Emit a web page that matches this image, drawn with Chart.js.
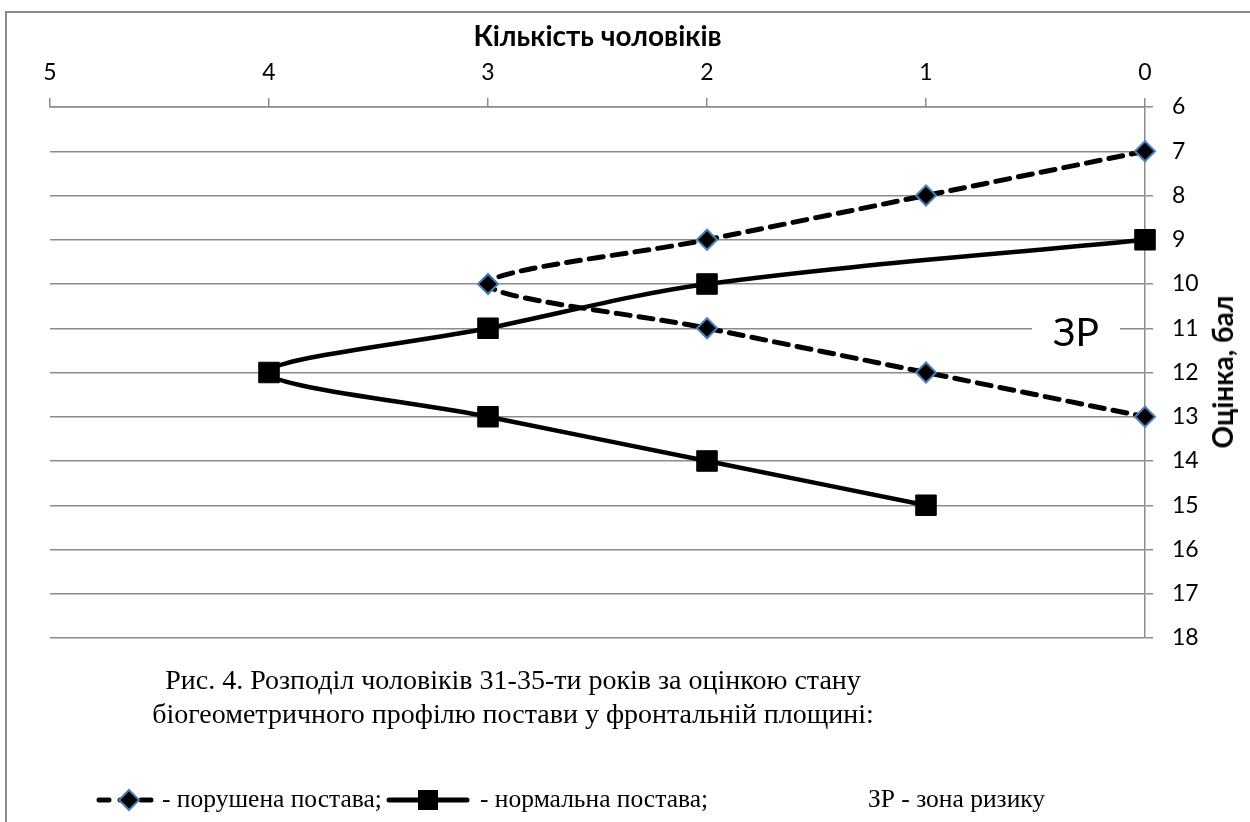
<!DOCTYPE html>
<html>
<head>
<meta charset="utf-8">
<script src="https://cdn.jsdelivr.net/npm/chart.js@4.4.1/dist/chart.umd.min.js"></script>
<style>
  html, body { margin: 0; padding: 0; width: 1250px; height: 822px; overflow: hidden; background: #fff; }
  #frame { position: absolute; left: 5px; top: 11px; width: 2000px; height: 2000px; border: 2px solid #8c8c8c; box-sizing: border-box; }
  #wrap { position: absolute; left: 0; top: 0; width: 1250px; height: 822px; }
  .txt { position: absolute; white-space: nowrap; color: #000; }
  .serif { font-family: "Liberation Serif", "Times New Roman", serif; }
  #ytitle { font-family: Lato, "Open Sans", sans-serif; font-weight: bold; font-size: 28px; left: 1222px; top: 372px; transform: translate(-50%, -50%) rotate(-90deg); }
  #zr { font-family: Lato, "Open Sans", sans-serif; font-size: 39px; background: #fff; left: 1076px; top: 331px; transform: translate(-50%, -50%); padding: 0 21px; line-height: 44px; }
  #caption { left: 0; width: 1026px; top: 663px; text-align: center; line-height: 34px; font-size: 28px; }
  .leg { font-size: 25.5px; top: 784px; }
  .icon { position: absolute; }
</style>
</head>
<body>
<div id="frame"></div>
<div id="wrap"><canvas id="c" width="1250" height="822"></canvas></div>
<div id="ytitle" class="txt">Оцінка, бал</div>
<div id="zr" class="txt">ЗР</div>
<div id="caption" class="txt serif">Рис. 4. Розподіл чоловіків 31-35-ти років за оцінкою стану<br>біогеометричного профілю постави у фронтальній площині:</div>

<svg class="icon" style="left:95px;top:786px" width="64" height="28" viewBox="0 0 64 28">
  <line x1="4" y1="14" x2="60" y2="14" stroke="#000" stroke-width="5" stroke-linecap="round" stroke-dasharray="10 11"/>
  <polygon points="34,4 44,14 34,24 24,14" fill="#000" stroke="#4A7EBB" stroke-width="2"/>
</svg>
<div class="txt serif leg" style="left:162px;">- порушена постава;</div>
<svg class="icon" style="left:386px;top:786px" width="84" height="28" viewBox="0 0 84 28">
  <line x1="3" y1="14" x2="81" y2="14" stroke="#000" stroke-width="5" stroke-linecap="round"/>
  <rect x="32" y="4" width="20" height="20" fill="#000"/>
</svg>
<div class="txt serif leg" style="left:480px;">- нормальна постава;</div>
<div class="txt serif leg" style="left:868px;">ЗР - зона ризику</div>

<script>
// Data
const disturbedCount = [0, 1, 2, 3, 2, 1, 0];     // Кількість чоловіків (порушена постава)
const disturbedScore = [7, 8, 9, 10, 11, 12, 13];  // Оцінка, бал
const normalCount = [0, 2, 3, 4, 3, 2, 1];         // Кількість чоловіків (нормальна постава)
const normalScore = [9, 10, 11, 12, 13, 14, 15];   // Оцінка, бал
const countTicks = [0, 1, 2, 3, 4, 5];
const scoreTicks = [6, 7, 8, 9, 10, 11, 12, 13, 14, 15, 16, 17, 18];

const toPoints = (xs, ys) => xs.map((x, i) => ({ x: x, y: ys[i] }));
const GRID = '#8c8c8c';

new Chart(document.getElementById('c'), {
  type: 'scatter',
  data: {
    datasets: [
      {
        label: 'порушена постава',
        data: toPoints(disturbedCount, disturbedScore),
        showLine: true,
        borderColor: '#000',
        borderWidth: 5,
        borderDash: [14, 9],
        borderCapStyle: 'round',
        tension: 0.33,
        pointStyle: 'rectRot',
        pointRadius: 10,
        pointHoverRadius: 10,
        pointBackgroundColor: '#000',
        pointBorderColor: '#4A7EBB',
        pointBorderWidth: 2,
        clip: false
      },
      {
        label: 'нормальна постава',
        data: toPoints(normalCount, normalScore),
        showLine: true,
        borderColor: '#000',
        borderWidth: 4.5,
        tension: 0.33,
        pointStyle: 'rect',
        pointRadius: 14.5,
        pointHoverRadius: 14.5,
        pointBackgroundColor: '#000',
        pointBorderColor: '#000',
        pointBorderWidth: 1,
        clip: false
      }
    ]
  },
  options: {
    responsive: false,
    animation: false,
    events: [],
    layout: { autoPadding: false, padding: { left: 50, top: 0, right: 0, bottom: 184 } },
    plugins: { legend: { display: false }, tooltip: { enabled: false } },
    scales: {
      x: {
        type: 'linear',
        position: 'top',
        reverse: true,
        min: countTicks[0],
        max: countTicks[countTicks.length - 1],
        afterFit: s => { s.height = 107; },
        afterBuildTicks: s => { s.ticks = countTicks.map(v => ({ value: v })); },
        grid: { display: true, drawOnChartArea: false, drawTicks: true, tickLength: 9, color: GRID, lineWidth: 1.5 },
        border: { display: true, color: GRID, width: 1.5 },
        ticks: { padding: 12, color: '#000', font: { family: 'Lato', size: 23 }, maxRotation: 0 },
        title: { display: true, text: 'Кількість чоловіків', color: '#000', padding: { top: 20, bottom: 0 }, font: { family: 'Lato', size: 28, weight: 'bold' } }
      },
      y: {
        type: 'linear',
        position: 'right',
        reverse: true,
        min: scoreTicks[0],
        max: scoreTicks[scoreTicks.length - 1],
        afterFit: s => { s.width = 105; },
        afterBuildTicks: s => { s.ticks = scoreTicks.map(v => ({ value: v })); },
        grid: { display: true, drawOnChartArea: true, drawTicks: true, tickLength: 8, color: GRID, lineWidth: 1.5 },
        border: { display: true, color: GRID, width: 1.5 },
        ticks: { padding: 19, color: '#000', font: { family: 'Lato', size: 23 }, crossAlign: 'near' }
      }
    }
  }
});
</script>
</body>
</html>
